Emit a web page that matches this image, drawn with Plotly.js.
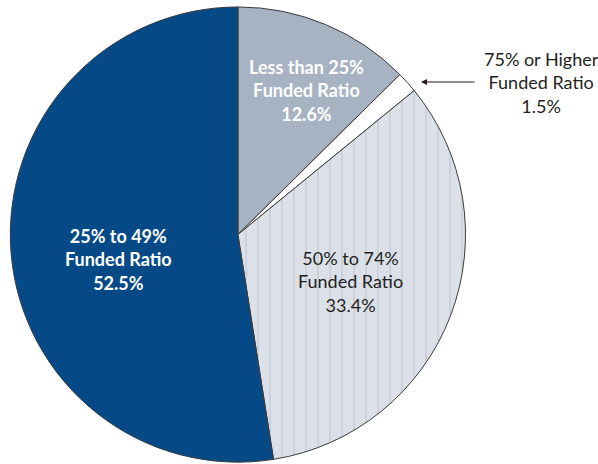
<!DOCTYPE html>
<html><head><meta charset="utf-8">
<script src="https://cdn.plot.ly/plotly-3.0.1.min.js"></script>
<style>html,body{margin:0;padding:0;background:#fff}#chart{width:598px;height:464px}</style>
</head><body><div id="chart"></div>
<script>
const categories = ["Less than 25%<br>Funded Ratio", "75% or Higher<br>Funded Ratio", "50% to 74%<br>Funded Ratio", "25% to 49%<br>Funded Ratio"];
const shares = [12.6, 1.5, 33.4, 52.5];
const sliceColors = ["#a7b2c3", "#ffffff", "#dce1e9", "#054a87"];
const patternShapes = ["", "", "|", ""];
const labelTexts = categories.map((c, i) => c + "<br>" + shares[i].toFixed(1) + "%");

const trace = {
  type: "pie",
  values: shares,
  labels: categories,
  sort: false,
  direction: "clockwise",
  rotation: 0,
  textinfo: "none",
  hoverinfo: "none",
  marker: {
    colors: sliceColors,
    line: {color: "#3a3a3a", width: 1},
    pattern: {shape: patternShapes, fgcolor: "#c4c9d1", bgcolor: sliceColors, size: 12, solidity: 0.1, fillmode: "replace"}
  },
  domain: {x: [0.0167, 0.779], y: [0.004, 0.985]},
  showlegend: false
};

const fontFam = "Lato, 'Open Sans', sans-serif";
const annotations = [
  {x: 306/598, y: 1 - 91/464, text: "<b>" + labelTexts[0] + "</b>", font: {color: "#ffffff", size: 18, family: fontFam}},
  {x: 541/598, y: 1 - 82/464, text: labelTexts[1], font: {color: "#231f20", size: 18, family: fontFam}},
  {x: 350/598, y: 1 - 281/464, text: labelTexts[2], font: {color: "#231f20", size: 18, family: fontFam}},
  {x: 118/598, y: 1 - 259/464, text: "<b>" + labelTexts[3] + "</b>", font: {color: "#ffffff", size: 18, family: fontFam}}
].map(a => Object.assign({xref: "paper", yref: "paper", xanchor: "center", yanchor: "middle", showarrow: false, align: "center"}, a));

annotations.push({
  xref: "paper", yref: "paper", axref: "pixel", ayref: "pixel",
  x: 421/598, y: 1 - 82/464, ax: 55, ay: 0,
  text: "", showarrow: true, arrowhead: 2, arrowsize: 1, arrowwidth: 1.2, arrowcolor: "#2a1a1a", standoff: 0
});

const layout = {
  width: 598, height: 464,
  margin: {l: 0, r: 0, t: 0, b: 0},
  paper_bgcolor: "#ffffff",
  annotations: annotations
};
Plotly.newPlot("chart", [trace], layout, {displayModeBar: false, staticPlot: true});
</script></body></html>
